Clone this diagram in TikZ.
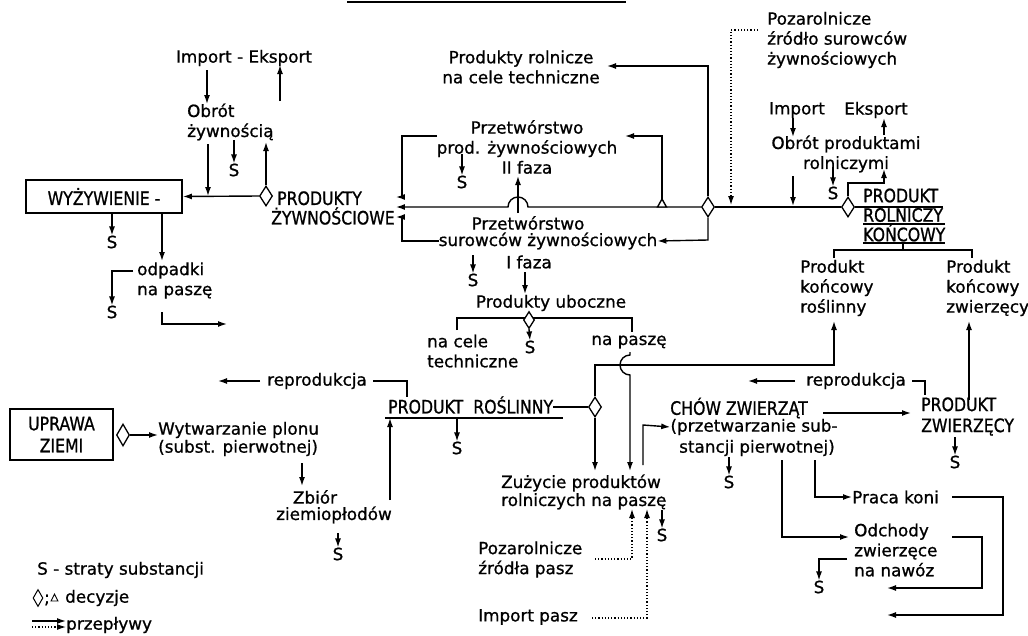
\documentclass[tikz,border=0pt]{standalone}
\usepackage{fontspec}
\setmainfont[FakeBold=0.9]{DejaVu Sans}
\newfontfamily\capsfont[FakeStretch=0.85,FakeBold=0.9]{DejaVu Sans}
\usetikzlibrary{shapes.geometric,arrows.meta}
\begin{document}
\begin{tikzpicture}[x=1pt,y=-1pt,
  every node/.style={inner sep=0pt,font=\fontsize{16.8}{20}\selectfont},
  caps/.style={font=\capsfont\fontsize{18.5}{19.5}\selectfont},
  ln/.style={line width=1.4pt},
  ar/.style={line width=1.4pt,-{Latex[length=9pt,width=6pt]}},
  dar/.style={line width=1.2pt,dash pattern=on 1.2pt off 2pt,-{Latex[length=9pt,width=6pt]}},
  dia/.style={diamond,draw,line width=1.3pt,fill=white,minimum width=13pt,minimum height=20pt},
  framebox/.style={draw,line width=1.8pt}
]
\useasboundingbox (0,0) rectangle (1028,635);

% title rule (cut off)
\draw[line width=2pt] (347,2) -- (626,2);

% ---------- top left ----------
\node (ie) at (244,58) {Import - Eksport};
\node[anchor=west,align=left] (obr) at (187,122) {Obrót\\żywnością};
\node (s1) at (234,170) {S};
\node[framebox,caps,minimum width=156pt,minimum height=33pt] (wyz) at (104,196.5) {WYŻYWIENIE -};
\node[dia] (d1) at (266,196) {};
\node[caps,anchor=west,align=left] (pz) at (271,208) {\hspace{6pt}PRODUKTY\\ŻYWNOŚCIOWE};

\draw[ar] (207,70) -- (207,104);
\draw[ar] (280,101) -- (280,65);
\draw[ar] (208,144) -- (208,196);
\draw[ar] (234,140) -- (s1.north);
\draw[ar] (d1.north) -- (266,142);
\draw[ar] (d1.west) -- (wyz.east);

% below WYŻYWIENIE
\node (s10) at (112,242) {S};
\node[anchor=west,align=left] (odp) at (137,280.5) {odpadki\\na paszę};
\node (s11) at (112,312) {S};
\draw[ar] (112,0 |- wyz.south) -- (s10.north);
\draw[ar] (162,0 |- wyz.south) -- (162,261);
\draw[ar] (133,271) -- (112,271) -- (s11.north);
\draw[ar] (162,312) -- (162,324) -- (227,324);

% ---------- centre top ----------
\node[align=center] (prc) at (521,67) {Produkty rolnicze\\na cele techniczne};
\node[align=center] (p2) at (527,147) {Przetwórstwo\\prod. żywnościowych\\II faza};
\node (s2) at (462,182) {S};
\draw[ar] (462,154) -- (s2.north);

\node (p1a) at (528,223) {Przetwórstwo};
\node (p1b) at (548,241) {surowców żywnościowych};
\node (p1c) at (529,262) {I faza};
\node (s4) at (473,280) {S};
\draw[ar] (473,255) -- (s4.north);

\coordinate (pzE) at ([xshift=1pt]pz.east);
\node[dia] (d2) at (708,207) {};
\node[dia] (d3) at (848,207) {};

% main line with hop
\draw[ar] (d2.west) -- (528,207) arc[start angle=0,end angle=180,radius=10pt] -- (pzE |- 0,207);
\draw[ar] (518,213) -- (518,176);
\draw[ar] (437,136) -- (402,136) -- (402,197) -- (pzE |- 0,197);
\draw[ar] (p1b.west) -- (402,241) -- (402,217) -- (pzE |- 0,217);
% triangle decision
\draw[ar] (662,199) -- (662,136) -- (625,136);
\draw[ln,fill=white] (657.5,207) -- (662,199) -- (666.5,207) -- cycle;
\draw[ar] (d2.north) -- (708,66) -- (607,66);
\draw[ar] (d2.south) -- (708,240) -- (p1b.east);
\draw[ln] (d2.east) -- (d3.west);

% ---------- top right ----------
\node[anchor=west,align=left] (poz) at (767,40) {Pozarolnicze\\źródło surowców\\żywnościowych};
\draw[dar] (poz.west |- 0,30) ++(-9,0) -- (731,30) -- (731,205);
\node (imp) at (797,110) {Import};
\node (eks) at (876,110) {Eksport};
\node[align=center] (obp) at (846,154) {Obrót produktami\\rolniczymi};
\node (s3) at (833,193) {S};
\draw[ar] (793,118) -- (793,137);
\draw[ar] (884,135) -- (884,118);
\draw[ar] (793,176) -- (793,206);
\draw[ar] (833,167) -- (s3.north);
\draw[ar] (d3.north) -- (848,183) -- (884,183) -- (884,169);

\node[caps,anchor=west,align=left] (prk) at (863,215) {PRODUKT\\ROLNICZY\\KOŃCOWY};
\draw[ln] (d3.east) -- (943,207);
\draw[ln] (863,224) -- (945,224);
\draw[ln] (863,243) -- (945,243);
\draw[ln] (903,243) -- (903,250);
\draw[ln] (834,258) -- (834,250) -- (972,250) -- (972,258);
\node[anchor=west,align=left] (pkr) at (800,288) {Produkt\\końcowy\\roślinny};
\node[anchor=west,align=left] (pkz) at (946,288) {Produkt\\końcowy\\zwierzęcy};

% ---------- middle ----------
\node (pu) at (551,303) {Produkty uboczne};
\draw[ar] (525,272) -- (525,294);
\draw[ln] (457,330) -- (457,318) -- (632,318) -- (632,332);
\node[dia,minimum width=11pt,minimum height=17pt] (d5) at (529,320) {};
\node (s5) at (530,347) {S};
\draw[ar] (d5.south) -- (s5.north);
\node[anchor=west,align=left] (nct) at (427,351) {na cele\\techniczne};
\node (np) at (629,342) {na paszę};

\node (rep1) at (317,381) {reprodukcja};
\draw[ar] (260,381) -- (218,381);
\draw[ln] (373,381) -- (407,381) -- (407,397);

\node[caps,anchor=west] (pr) at (388,405) {PRODUKT\hspace{10pt}ROŚLINNY};
\node[dia] (d4) at (595,407) {};
\draw[ln] (d4.west) -- (pr.east |- d4.west);
\draw[ln] (385,418) -- (563,418);
\node (s8) at (457,448) {S};
\draw[ar] (457,418) -- (s8.north);
\draw[ar] (d4.north) -- (595,365) -- (834,365) -- (834,321);
\draw[ar] (d4.south) -- (595,471);
\draw[ar] (630,352) -- (630,355) arc[start angle=90,end angle=270,radius=10pt] -- (630,471);

% ---------- bottom left ----------
\node[framebox,caps,align=center,minimum width=103pt,minimum height=51pt,font=\capsfont\fontsize{18.5}{22}\selectfont] (upr) at (61.5,434.5) {UPRAWA\\ZIEMI};
\node[dia,minimum width=13pt,minimum height=22pt] (d6) at (123,435) {};
\node[anchor=west,align=left,font=\fontsize{16.8}{18}\selectfont] (wyt) at (158,439) {Wytwarzanie plonu\\(subst. pierwotnej)};
\draw[ar] (d6.east) -- (wyt.west |- d6.east);
\draw[ar] (302,463) -- (302,486);
\node (zb1) at (315,497) {Zbiór};
\node (zb2) at (334,515) {ziemiopłodów};
\node (s9) at (338,554) {S};
\draw[ar] (338,533) -- (s9.north);
\draw[ar] (390,500) -- (390,418);

% legend
\node[anchor=west] (lg1) at (37,570) {S - straty substancji};
\node[dia,line width=1pt,minimum width=10pt,minimum height=17pt] (lgd) at (38,598) {};
\node (lgs) at (47,600) {;};
\draw[line width=0.9pt] (51,601) -- (54.5,594) -- (58,601) -- cycle;
\node[anchor=west] (lg2) at (65,598) {decyzje};
\node[anchor=west] (lg3) at (66,625) {przepływy};
\draw[ar] (32,621) -- (lg3.west |- 0,621);
\draw[dar] (32,627) -- (lg3.west |- 0,627);

% ---------- bottom middle ----------
\node[anchor=west,align=left,font=\fontsize{16.8}{18}\selectfont] (zu) at (501,492) {Zużycie produktów\\rolniczych na paszę};
\node[anchor=west,align=left] (pzp) at (478,559.5) {Pozarolnicze\\źródła pasz};
\node[anchor=west] (ip) at (478,617) {Import pasz};
\node (s6) at (662,535) {S};
\draw[ar] (662,510) -- (s6.north);
\draw[dar] (595,559) -- (632,559) -- (632,509);
\draw[dar] (592,618) -- (647,618) -- (647,509);

% ---------- bottom right ----------
\node[caps] (ch1) at (739,408) {CHÓW ZWIERZĄT};
\node (ch2) at (754,427) {(przetwarzanie sub-};
\node (ch3) at (757,448) {stancji pierwotnej)};
\draw[ar] (643,465) -- (643,425) -- (ch2.west);
\node (s13) at (729,482) {S};
\draw[ar] (729,457) -- (s13.north);

\node (rep2) at (856,381) {reprodukcja};
\draw[ar] (795,381) -- (748,381);
\draw[ln] (912,381) -- (925,381) -- (925,395);

\node[anchor=west,align=left,font=\capsfont\fontsize{18.5}{21}\selectfont] (pzw) at (921,416.5) {PRODUKT\\ZWIERZĘCY};
\draw[ar] (823,413) -- (911,413);
\draw[ar] (969,400) -- (969,321);
\node (s7) at (955,462) {S};
\draw[ar] (955,437) -- (s7.north);

\node[anchor=west] (pk) at (852,497) {Praca koni};
\node[anchor=west,align=left] (odc) at (854,550) {Odchody\\zwierzęce\\na nawóz};
\draw[ar] (815,460) -- (815,497) -- (pk.west);
\draw[ar] (782,460) -- (782,537) -- (849,537);
\draw[ar] (952,497) -- (1003,497) -- (1003,615) -- (887,615);
\draw[ar] (952,537) -- (982,537) -- (982,588) -- (887,588);
\node (s12) at (819,587) {S};
\draw[ar] (847,559) -- (819,559) -- (s12.north);

\end{tikzpicture}
\end{document}
